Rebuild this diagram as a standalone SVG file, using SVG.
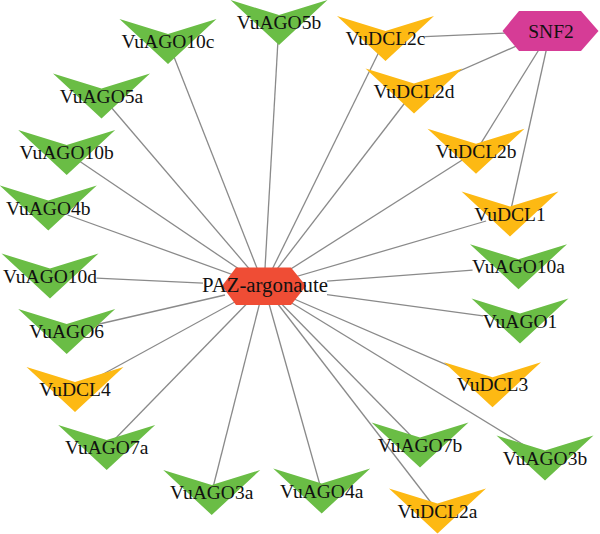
<svg xmlns="http://www.w3.org/2000/svg" width="600" height="534" viewBox="0 0 600 534">
<style>
.e{stroke:#8a8a8a;stroke-width:1.3;fill:none}
.g{fill:#6abd45}
.o{fill:#fdb913}
.t{font-family:"Liberation Serif","Times New Roman",serif;font-size:19.5px;fill:#111;text-anchor:middle}
.tb{font-size:20.8px}
</style>
<defs>
<polygon id="vee" points="-48.5,-22.5 0,-7.5 48.5,-22.5 0,22.5"/>
</defs>
<rect width="600" height="534" fill="#fff"/>
<g id="edges">
<line class="e" x1="264" y1="286" x2="170.7" y2="48.5"/>
<line class="e" x1="264" y1="286" x2="278.6" y2="29.5"/>
<line class="e" x1="264" y1="286" x2="382.1" y2="45.5"/>
<line class="e" x1="264" y1="286" x2="408.6" y2="98"/>
<line class="e" x1="264" y1="286" x2="107.5" y2="103"/>
<line class="e" x1="264" y1="286" x2="77" y2="159.5"/>
<line class="e" x1="264" y1="286" x2="465" y2="158.3"/>
<line class="e" x1="264" y1="286" x2="67.7" y2="215"/>
<line class="e" x1="264" y1="286" x2="486.1" y2="221"/>
<line class="e" x1="327" y1="281.2" x2="472.6" y2="270.2"/>
<line class="e" x1="203" y1="283.2" x2="96.5" y2="278.2"/>
<line class="e" x1="327" y1="294.6" x2="483" y2="315.9"/>
<line class="e" x1="225" y1="295" x2="97.1" y2="324.5"/>
<line class="e" x1="264" y1="286" x2="87.8" y2="382.5"/>
<line class="e" x1="264" y1="286" x2="476.3" y2="377.7"/>
<line class="e" x1="264" y1="286" x2="113.5" y2="440.5"/>
<line class="e" x1="264" y1="286" x2="413.1" y2="438"/>
<line class="e" x1="264" y1="286" x2="533.6" y2="451"/>
<line class="e" x1="264" y1="286" x2="213.5" y2="485.5"/>
<line class="e" x1="264" y1="286" x2="319.7" y2="484"/>
<line class="e" x1="264" y1="286" x2="432.1" y2="504"/>
<line class="e" x1="550.5" y1="31" x2="425.1" y2="36.7"/>
<line class="e" x1="550.5" y1="31" x2="429.9" y2="84"/>
<line class="e" x1="550.5" y1="31" x2="480.3" y2="144.3"/>
<line class="e" x1="550.5" y1="31" x2="511.5" y2="207"/>
</g>
<g id="PAZ-argonaute">
<polygon points="222,286 236,267.5 291,267.5 306,286 291,305 236,305" fill="#ef4d35"/>
<text class="t tb" x="265" y="291.5">PAZ-argonaute</text>
</g>
<g id="SNF2">
<polygon points="502.5,31 519,11 581,11 598.5,31 581,51 519,51" fill="#d63c96"/>
<text class="t" x="551" y="37.5">SNF2</text>
</g>
<g id="VuAGO10c"><use href="#vee" class="g" x="168" y="41.5"/><text class="t" x="168" y="48">VuAGO10c</text></g>
<g id="VuAGO5b"><use href="#vee" class="g" x="279" y="22.5"/><text class="t" x="279" y="29">VuAGO5b</text></g>
<g id="VuDCL2c"><use href="#vee" class="o" x="385.5" y="38.5"/><text class="t" x="385.5" y="45">VuDCL2c</text></g>
<g id="VuDCL2d"><use href="#vee" class="o" x="414" y="91"/><text class="t" x="414" y="97.5">VuDCL2d</text></g>
<g id="VuAGO5a"><use href="#vee" class="g" x="101.5" y="96"/><text class="t" x="101.5" y="102.5">VuAGO5a</text></g>
<g id="VuAGO10b"><use href="#vee" class="g" x="66.7" y="152.5"/><text class="t" x="66.7" y="159">VuAGO10b</text></g>
<g id="VuDCL2b"><use href="#vee" class="o" x="476" y="151.3"/><text class="t" x="476" y="158">VuDCL2b</text></g>
<g id="VuAGO4b"><use href="#vee" class="g" x="48.3" y="208"/><text class="t" x="48.3" y="214.5">VuAGO4b</text></g>
<g id="VuDCL1"><use href="#vee" class="o" x="510" y="214"/><text class="t" x="510" y="220.5">VuDCL1</text></g>
<g id="VuAGO10a"><use href="#vee" class="g" x="518.5" y="266.7"/><text class="t" x="518.5" y="273.2">VuAGO10a</text></g>
<g id="VuAGO10d"><use href="#vee" class="g" x="50" y="276"/><text class="t" x="50" y="282.5">VuAGO10d</text></g>
<g id="VuAGO1"><use href="#vee" class="g" x="520" y="321"/><text class="t" x="520" y="327.5">VuAGO1</text></g>
<g id="VuAGO6"><use href="#vee" class="g" x="66.7" y="331.5"/><text class="t" x="66.7" y="338">VuAGO6</text></g>
<g id="VuDCL4"><use href="#vee" class="o" x="75" y="389.5"/><text class="t" x="75" y="396">VuDCL4</text></g>
<g id="VuDCL3"><use href="#vee" class="o" x="492.5" y="384.7"/><text class="t" x="492.5" y="391.2">VuDCL3</text></g>
<g id="VuAGO7a"><use href="#vee" class="g" x="106.7" y="447.5"/><text class="t" x="106.7" y="454">VuAGO7a</text></g>
<g id="VuAGO7b"><use href="#vee" class="g" x="420" y="445"/><text class="t" x="420" y="451.5">VuAGO7b</text></g>
<g id="VuAGO3b"><use href="#vee" class="g" x="545" y="458"/><text class="t" x="545" y="464.5">VuAGO3b</text></g>
<g id="VuAGO3a"><use href="#vee" class="g" x="211.7" y="492.5"/><text class="t" x="211.7" y="499">VuAGO3a</text></g>
<g id="VuAGO4a"><use href="#vee" class="g" x="321.7" y="491"/><text class="t" x="321.7" y="497.5">VuAGO4a</text></g>
<g id="VuDCL2a"><use href="#vee" class="o" x="437.5" y="511"/><text class="t" x="437.5" y="517.5">VuDCL2a</text></g>
</svg>
